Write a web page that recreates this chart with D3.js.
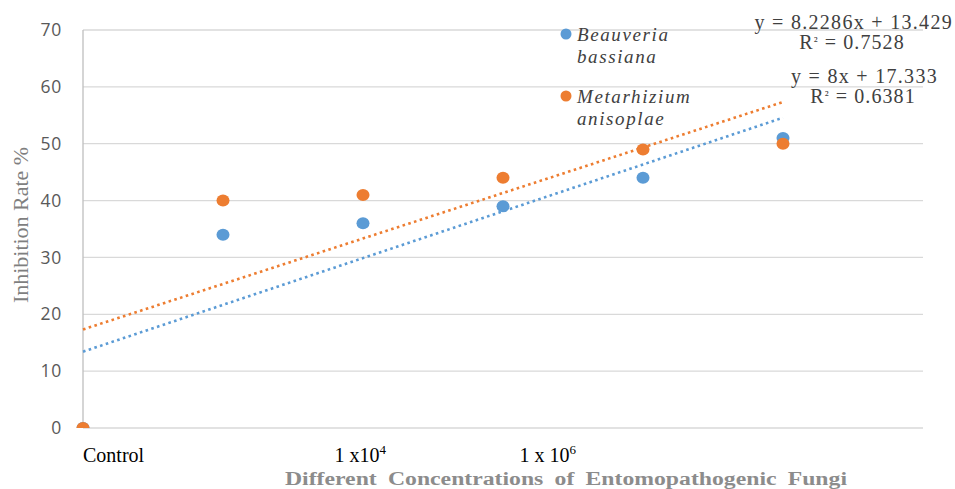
<!DOCTYPE html>
<html>
<head>
<meta charset="utf-8">
<script src="https://cdn.jsdelivr.net/npm/d3@7"></script>
<style>
  body { margin: 0; background: #fff; }
  svg { display: block; }
</style>
</head>
<body>
<svg id="chart" width="955" height="489"></svg>
<script>
// data
const xIndex = [0, 1, 2, 3, 4, 5];
const beauveria = [0, 34, 36, 39, 44, 51];
const metarhizium = [0, 40, 41, 44, 49, 50];
const yTicks = [0, 10, 20, 30, 40, 50, 60, 70];
const xLabels = ["Control", "1 x10", "1 x 10"];
const xLabelSup = ["", "4", "6"];
const xLabelAt = [0, 1.98, 3.32];

const colors = { b: "#5b9bd5", m: "#ed7d31" };
const serif = "'Liberation Serif', 'Times New Roman', serif";

const svg = d3.select("#chart");
const plotL = 83, plotR = 923, plotT = 30, plotB = 428;

const x = d3.scaleLinear().domain([0, 6]).range([plotL, plotR]);
const y = d3.scaleLinear().domain([0, 70]).range([plotB, plotT]);

// linear regression like excel trendline
function fit(xs, ys) {
  const mx = d3.mean(xs), my = d3.mean(ys);
  const sxy = d3.sum(xs, (v, i) => (v - mx) * (ys[i] - my));
  const sxx = d3.sum(xs, v => (v - mx) ** 2);
  const sst = d3.sum(ys, v => (v - my) ** 2);
  const m = sxy / sxx, b = my - m * mx;
  const r2 = (sxy * sxy) / (sxx * sst);
  return { m, b, r2 };
}

// grid
svg.append("g")
  .selectAll("line")
  .data(yTicks)
  .join("line")
  .attr("x1", plotL).attr("x2", plotR)
  .attr("y1", d => y(d)).attr("y2", d => y(d))
  .attr("stroke", "#d9d9d9")
  .attr("stroke-width", 1.3);

svg.append("line")
  .attr("x1", plotL).attr("x2", plotL)
  .attr("y1", plotT).attr("y2", plotB)
  .attr("stroke", "#bfbfbf")
  .attr("stroke-width", 1.3);

// y tick labels
const yAxis = d3.axisLeft(y).tickValues(yTicks).tickSize(0).tickPadding(21);
svg.append("g")
  .attr("transform", `translate(${plotL},0)`)
  .call(yAxis)
  .call(g => g.select(".domain").remove())
  .selectAll("text")
  .attr("font-family", "'Open Sans', 'DejaVu Sans', sans-serif")
  .attr("font-size", 17.5)
  .attr("letter-spacing", 0.8)
  .attr("fill", "#595959");

// x labels
const xl = svg.append("g")
  .selectAll("text")
  .data(xLabels)
  .join("text")
  .attr("x", (d, i) => x(xLabelAt[i]))
  .attr("y", 462)
  .attr("text-anchor", (d, i) => i === 0 ? "start" : "middle")
  .attr("font-family", serif)
  .attr("font-size", 20)
  .attr("fill", "#000");
xl.append("tspan").text(d => d);
xl.append("tspan")
  .text((d, i) => xLabelSup[i])
  .attr("dy", -8)
  .attr("font-size", 13);

// axis titles
svg.append("text")
  .attr("x", 285).attr("y", 485)
  .attr("textLength", 562)
  .attr("lengthAdjust", "spacingAndGlyphs")
  .attr("font-family", serif)
  .attr("font-weight", "bold")
  .attr("font-size", 18)
  .attr("word-spacing", 4)
  .attr("fill", "#8c8c8c")
  .text("Different Concentrations of Entomopathogenic Fungi");

svg.append("text")
  .attr("transform", "translate(28,225) rotate(-90)")
  .attr("text-anchor", "middle")
  .attr("textLength", 156)
  .attr("lengthAdjust", "spacingAndGlyphs")
  .attr("font-family", serif)
  .attr("font-size", 21)
  .attr("fill", "#7f7f7f")
  .text("Inhibition Rate %");

// clip for plot area
svg.append("clipPath").attr("id", "plot")
  .append("rect")
  .attr("x", plotL - 10).attr("y", plotT - 10)
  .attr("width", plotR - plotL + 20).attr("height", plotB - plotT + 10);

const series = [
  { key: "b", values: beauveria },
  { key: "m", values: metarhizium }
];

const plot = svg.append("g").attr("clip-path", "url(#plot)");

// trendlines
series.forEach(s => {
  const f = fit(xIndex, s.values);
  s.fit = f;
  const ends = [xIndex[0], xIndex[xIndex.length - 1]];
  plot.append("line")
    .attr("x1", x(ends[0])).attr("y1", y(f.m * ends[0] + f.b))
    .attr("x2", x(ends[1])).attr("y2", y(f.m * ends[1] + f.b))
    .attr("stroke", colors[s.key])
    .attr("stroke-width", 2.6)
    .attr("stroke-dasharray", "2.6,3.4");
});

// points
series.forEach(s => {
  plot.append("g")
    .selectAll("ellipse")
    .data(s.values)
    .join("ellipse")
    .attr("cx", (d, i) => x(xIndex[i]))
    .attr("cy", d => y(d))
    .attr("rx", 6.5).attr("ry", 6)
    .attr("fill", colors[s.key]);
});

// legend
const legend = [
  { key: "b", lines: ["Beauveria", "bassiana"], y: 35 },
  { key: "m", lines: ["Metarhizium", "anisoplae"], y: 97 }
];
const lg = svg.append("g");
legend.forEach(l => {
  lg.append("circle")
    .attr("cx", 566).attr("cy", l.y - 1)
    .attr("r", 5.5)
    .attr("fill", colors[l.key]);
  l.lines.forEach((t, j) => {
    lg.append("text")
      .attr("x", 577).attr("y", l.y + 6 + j * 22)
      .attr("font-family", serif)
      .attr("font-style", "italic")
      .attr("font-size", 19)
      .attr("letter-spacing", 1.6)
      .attr("fill", "#404040")
      .text(t);
  });
});

// equations
const fmt = v => +v.toFixed(4);
const eq = [
  { s: series[0], xEq: 953, yEq: 29, yR: 49, cx: 852 },
  { s: series[1], xEq: 938, yEq: 83, yR: 103, cx: 863 }
];
eq.forEach(e => {
  const f = e.s.fit;
  const b = +f.b.toFixed(3);
  svg.append("text")
    .attr("x", e.xEq).attr("y", e.yEq)
    .attr("text-anchor", "end")
    .attr("font-family", serif)
    .attr("font-size", 20)
    .attr("letter-spacing", 1.3)
    .attr("fill", "#404040")
    .text(`y = ${fmt(f.m)}x + ${b}`);
  const r = svg.append("text")
    .attr("x", e.cx).attr("y", e.yR)
    .attr("text-anchor", "middle")
    .attr("font-family", serif)
    .attr("font-size", 20)
    .attr("letter-spacing", 1.1)
    .attr("fill", "#404040");
  r.append("tspan").text("R");
  r.append("tspan").text("²").attr("font-size", 13).attr("dy", -4);
  r.append("tspan").text(` = ${f.r2.toFixed(4)}`).attr("dy", 4);
});
</script>
</body>
</html>
